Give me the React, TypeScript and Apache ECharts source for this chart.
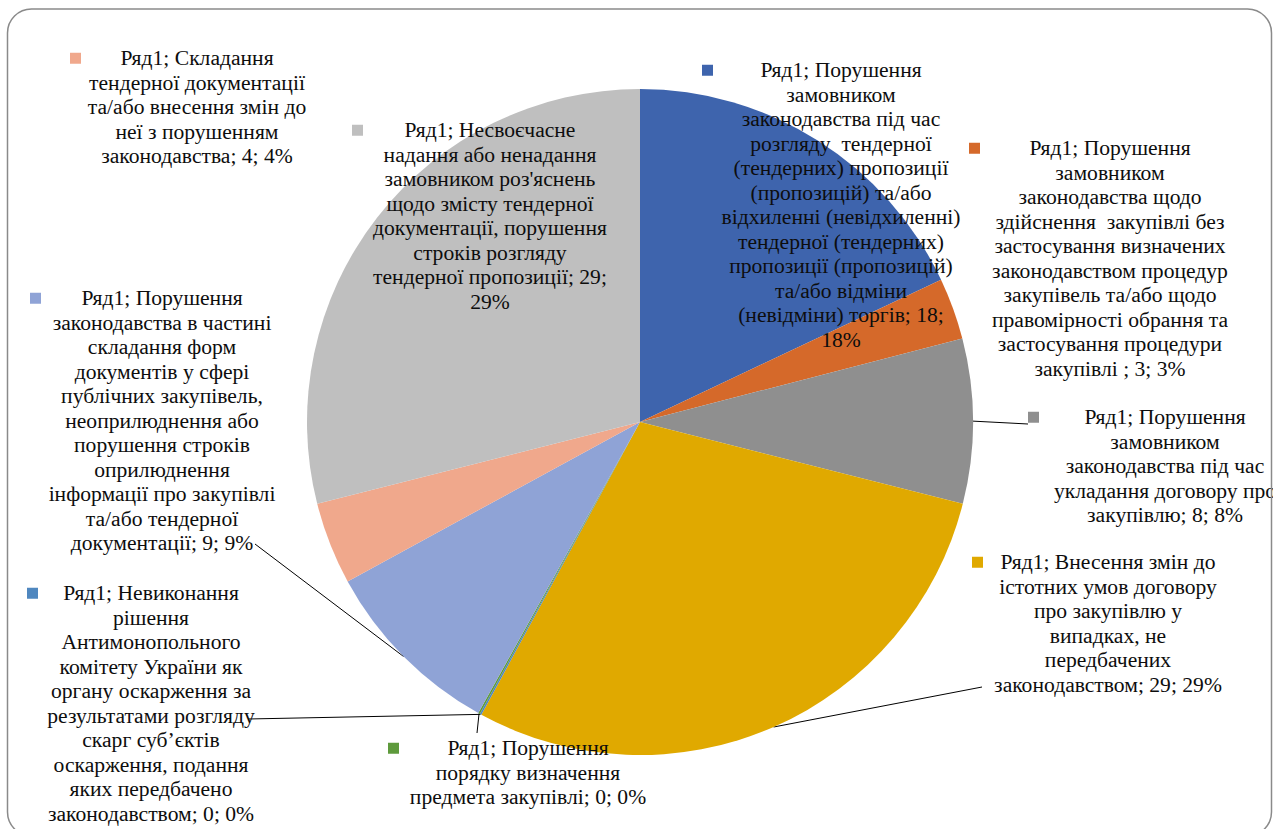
import React, { useEffect, useRef } from "react";
import * as echarts from "echarts";

const seriesName = "Ряд1";

// Category names (line breaks as they wrap in the picture)
const categories = [
  "Порушення\nзамовником\nзаконодавства під час\nрозгляду  тендерної\n(тендерних) пропозиції\n(пропозицій) та/або\nвідхиленні (невідхиленні)\nтендерної (тендерних)\nпропозиції (пропозицій)\nта/або відміни\n(невідміни) торгів",
  "Порушення\nзамовником\nзаконодавства щодо\nздійснення  закупівлі без\nзастосування визначених\nзаконодавством процедур\nзакупівель та/або щодо\nправомірності обрання та\nзастосування процедури\nзакупівлі ",
  "Порушення\nзамовником\nзаконодавства під час\nукладання договору про\nзакупівлю",
  "Внесення змін до\nістотних умов договору\nпро закупівлю у\nвипадках, не\nпередбачених\nзаконодавством",
  "Невиконання\nрішення\nАнтимонопольного\nкомітету України як\nоргану оскарження за\nрезультатами розгляду\nскарг суб’єктів\nоскарження, подання\nяких передбачено\nзаконодавством",
  "Порушення\nпорядку визначення\nпредмета закупівлі",
  "Порушення\nзаконодавства в частині\nскладання форм\nдокументів у сфері\nпублічних закупівель,\nнеоприлюднення або\nпорушення строків\nоприлюднення\nінформації про закупівлі\nта/або тендерної\nдокументації",
  "Складання\nтендерної документації\nта/або внесення змін до\nнеї з порушенням\nзаконодавства",
  "Несвоєчасне\nнадання або ненадання\nзамовником роз'яснень\nщодо змісту тендерної\nдокументації, порушення\nстроків розгляду\nтендерної пропозиції",
];

const values = [18, 3, 8, 29, 0, 0, 9, 4, 29];

const colors = [
  "#3E64AD", "#D5692A", "#8F8F8F", "#E0A900", "#4F87BF",
  "#5E9A3C", "#8FA3D6", "#F0A88C", "#BFBFBF",
];

// whether the percentage wraps onto its own line
const tailBreak = [true, false, false, false, false, false, false, false, true];

// label placement: centre x, top y, box width, optional leader-line end
const labelBoxes: { cx: number; top: number; w: number; end?: [number, number] }[] = [
  { cx: 841, top: 58, w: 278 },
  { cx: 1110, top: 136, w: 282 },
  { cx: 1165, top: 405, w: 274, end: [1028, 424] },
  { cx: 1108, top: 550, w: 272, end: [982, 687] },
  { cx: 151, top: 581, w: 248, end: [248, 719] },
  { cx: 528, top: 736, w: 280, end: [477, 733] },
  { cx: 162, top: 286, w: 264, end: [255, 544] },
  { cx: 197, top: 46, w: 254 },
  { cx: 490, top: 118, w: 276 },
];

const CENTER: [number, number] = [640, 422];
const RADIUS = 333;
const FONT = "'Liberation Serif', 'Times New Roman', serif";
const FONT_SIZE = 21.6;
const LINE_H = 24.5;

export default function App() {
  const ref = useRef<HTMLDivElement>(null);

  useEffect(() => {
    if (!ref.current) return;
    const chart = echarts.init(ref.current, undefined, { renderer: "svg" });

    const total = values.reduce((a, b) => a + b, 0);
    const midPoint = (i: number): [number, number] => {
      let cum = 0;
      for (let k = 0; k < i; k++) cum += values[k];
      const a = ((cum + values[i] / 2) / total) * Math.PI * 2;
      return [CENTER[0] + RADIUS * Math.sin(a), CENTER[1] - RADIUS * Math.cos(a)];
    };

    const rich: Record<string, any> = {
      t: {
        align: "center",
        fontFamily: FONT,
        fontSize: FONT_SIZE,
        lineHeight: LINE_H,
        color: "#0d0d0d",
      },
      s: { width: 11, height: 11, align: "right", lineHeight: LINE_H },
    };
    colors.forEach((c, i) => {
      rich["m" + i] = {
        width: 11,
        height: 11,
        backgroundColor: c,
        align: "left",
        verticalAlign: "middle",
        lineHeight: LINE_H,
      };
    });

    const data = categories.map((name, i) => ({
      name,
      value: values[i],
      itemStyle: { color: colors[i] },
      label: { width: labelBoxes[i].w },
      labelLine: { show: !!labelBoxes[i].end },
    }));

    chart.setOption({
      animation: false,
      backgroundColor: "#ffffff",
      textStyle: { fontFamily: FONT },
      graphic: [
        {
          type: "rect",
          z: 100,
          silent: true,
          shape: { x: 1273, y: 0, width: 20, height: 829 },
          style: { fill: "#ffffff" },
        },
        {
          type: "rect",
          z: 101,
          silent: true,
          shape: { x: 7.5, y: 9, width: 1264, height: 827, r: 24 },
          style: { fill: "none", stroke: "#8a8a8a", lineWidth: 1.5 },
        },
      ],
      series: [
        {
          type: "pie",
          name: seriesName,
          center: CENTER,
          radius: RADIUS,
          startAngle: 90,
          clockwise: true,
          minAngle: 0.3,
          avoidLabelOverlap: false,
          itemStyle: { borderWidth: 0 },
          emphasis: { disabled: true },
          label: {
            show: true,
            position: "outside",
            overflow: "none",
            fontFamily: FONT,
            fontSize: FONT_SIZE,
            lineHeight: LINE_H,
            color: "#0d0d0d",
            rich,
            formatter: (p: any) => {
              const i = p.dataIndex;
              const tail = `; ${p.value};${tailBreak[i] ? "\n" : " "}${Math.round(p.percent)}%`;
              const lines = `${p.seriesName}; ${p.name}${tail}`.split("\n");
              return lines
                .map((ln, k) => (k === 0 ? `{m${i}|}{t|${ln}}{s|}` : `{t|${ln}}`))
                .join("\n");
            },
          },
          labelLine: {
            show: true,
            smooth: false,
            lineStyle: { color: "#000000", width: 1 },
          },
          labelLayout: (p: any) => {
            const b = labelBoxes[p.dataIndex];
            const out: any = { x: b.cx, y: b.top, align: "center", verticalAlign: "top" };
            if (b.end) {
              const start =
                p.labelLinePoints && p.labelLinePoints[0]
                  ? [p.labelLinePoints[0][0], p.labelLinePoints[0][1]]
                  : midPoint(p.dataIndex);
              out.labelLinePoints = [start, b.end];
            }
            return out;
          },
          data,
        },
      ],
    });

    return () => chart.dispose();
  }, []);

  return (
    <div
      ref={ref}
      style={{ position: "absolute", left: 0, top: 0, width: 1285, height: 829 }}
    />
  );
}
